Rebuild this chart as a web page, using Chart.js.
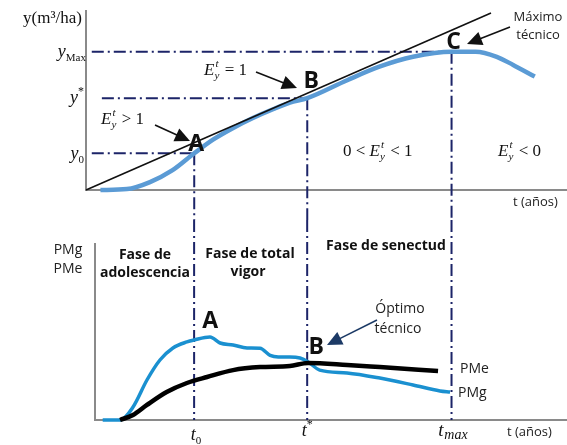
<!DOCTYPE html>
<html>
<head>
<meta charset="utf-8">
<script src="https://cdn.jsdelivr.net/npm/chart.js@4"></script>
<style>
  html, body { margin: 0; padding: 0; background: #fff; }
  #wrap { position: relative; width: 567px; height: 445px; overflow: hidden; }
  canvas { position: absolute; left: 0; }
</style>
</head>
<body>
<div id="wrap">
  <canvas id="growthChart" width="567" height="220" style="top:0"></canvas>
  <canvas id="prodChart" width="567" height="225" style="top:220px"></canvas>
</div>
<script>
// growth curve (t in arbitrary years, volume in m3/ha, both)
const growthT = [3, 8.5, 13.3, 18, 22.5, 26.4, 30.6, 34.7, 39, 42.4, 46, 54.3, 61, 68, 76, 81, 85.4, 88.8, 93.3];
const growthY = [0, 0.5, 4.4, 11, 20.4, 28, 34.5, 40, 45, 48.5, 51, 61, 68.5, 74, 76.8, 76.8, 74, 69.5, 63];

// straight line from origin, tangent at B
const tangentT = [0, 84.2];
const tangentY = [0, 98.3];

// marginal and mean product
const pmgT = [3.5, 7.1, 9.8, 12.7, 15.4, 18.1, 21, 22.5, 25.8, 27.9, 30.6, 33.5, 36.2, 38.3, 40, 42.4, 44.5, 46.2, 48.6, 54.3, 61.1, 68, 73.6, 75.7];
const pmgV = [0, 0, 7.3, 22.6, 33.9, 40.7, 44.1, 45.2, 46.9, 43.5, 42.4, 40.7, 40.5, 36.5, 35.6, 35.6, 35, 32.8, 28.2, 26.6, 23.7, 19.8, 16.4, 15.8];
const pmeT = [7.1, 9.8, 12.7, 16.8, 21, 25.2, 30.6, 36.2, 42.4, 46.2, 54.3, 61.1, 73.2];
const pmeV = [0, 2.8, 8.5, 15.8, 20.9, 24.3, 28.2, 29.9, 30.5, 32.2, 31.1, 29.9, 27.7];

// key points A, B, C
const keyT = [22.5, 46, 76];
const keyY = [20.4, 51, 76.8];
const keyNames = ['A', 'B', 'C'];

const toXY = (xs, ys) => xs.map((x, i) => ({ x, y: ys[i] }));

const NAVY = '#1c2468';
const AXIS = '#8a8a8a';
const SANS = "'Open Sans', 'Noto Sans', sans-serif";
const SERIF = "'Liberation Serif', 'DejaVu Serif', serif";

function dashDot(ctx, x1, y1, x2, y2) {
    ctx.save();
    ctx.strokeStyle = NAVY;
    ctx.lineWidth = 2;
    ctx.setLineDash([12, 4, 2, 4]);
    ctx.beginPath();
    ctx.moveTo(x1, y1);
    ctx.lineTo(x2, y2);
    ctx.stroke();
    ctx.restore();
}

function arrow(ctx, x1, y1, x2, y2, color) {
    const a = Math.atan2(y2 - y1, x2 - x1);
    const len = 15, w = 7;
    ctx.save();
    ctx.strokeStyle = color;
    ctx.fillStyle = color;
    ctx.lineWidth = 1.6;
    ctx.beginPath();
    ctx.moveTo(x1, y1);
    ctx.lineTo(x2 - Math.cos(a) * len * 0.8, y2 - Math.sin(a) * len * 0.8);
    ctx.stroke();
    ctx.beginPath();
    ctx.moveTo(x2, y2);
    ctx.lineTo(x2 - Math.cos(a) * len - Math.sin(a) * w, y2 - Math.sin(a) * len + Math.cos(a) * w);
    ctx.lineTo(x2 - Math.cos(a) * len + Math.sin(a) * w, y2 - Math.sin(a) * len - Math.cos(a) * w);
    ctx.closePath();
    ctx.fill();
    ctx.restore();
}

function text(ctx, str, x, y, font, align, color) {
    ctx.save();
    ctx.font = font;
    ctx.fillStyle = color || '#111';
    ctx.textAlign = align || 'left';
    ctx.textBaseline = 'alphabetic';
    ctx.fillText(str, x, y);
    ctx.restore();
}

// E_y^t with text before / after, drawn left to right from x
function elast(ctx, x, y, before, after) {
    ctx.save();
    ctx.fillStyle = '#111';
    ctx.textBaseline = 'alphabetic';
    ctx.font = '17px ' + SERIF;
    ctx.fillText(before, x, y);
    x += ctx.measureText(before).width;
    ctx.font = 'italic 17px ' + SERIF;
    ctx.fillText('E', x, y);
    x += ctx.measureText('E').width;
    ctx.font = 'italic 11px ' + SERIF;
    ctx.fillText('t', x + 1, y - 8);
    ctx.fillText('y', x, y + 4);
    x += 6;
    ctx.font = '17px ' + SERIF;
    ctx.fillText(after, x, y);
    ctx.restore();
}

function italicSym(ctx, base, small, x, y, up, align) {
    ctx.save();
    ctx.fillStyle = '#111';
    ctx.font = 'italic 18px ' + SERIF;
    const w1 = ctx.measureText(base).width;
    ctx.font = (up ? '12px ' : '11px ') + SERIF;
    const w2 = ctx.measureText(small).width;
    let sx = align === 'right' ? x - w1 - w2 : align === 'center' ? x - (w1 + w2) / 2 : x;
    ctx.font = 'italic 18px ' + SERIF;
    ctx.fillText(base, sx, y);
    ctx.font = (up ? '12px ' : '11px ') + SERIF;
    ctx.fillText(small, sx + w1, up ? y - 8 : y + 4);
    ctx.restore();
}

const growthDecor = {
    id: 'growthDecor',
    beforeDatasetsDraw(chart) {
        const { ctx, chartArea: ca, scales: { x, y } } = chart;
        // axes
        ctx.save();
        ctx.strokeStyle = AXIS;
        ctx.lineWidth = 2;
        ctx.beginPath();
        ctx.moveTo(ca.left, ca.top);
        ctx.lineTo(ca.left, ca.bottom);
        ctx.lineTo(chart.width, ca.bottom);
        ctx.stroke();
        ctx.restore();
        // reference lines
        const starts = [1.2, 3.3, 1.2];
        keyT.forEach((t, i) => {
            dashDot(ctx, x.getPixelForValue(starts[i]), y.getPixelForValue(keyY[i]), x.getPixelForValue(t), y.getPixelForValue(keyY[i]));
            dashDot(ctx, x.getPixelForValue(t), y.getPixelForValue(keyY[i]), x.getPixelForValue(t), chart.height);
        });
    },
    afterDatasetsDraw(chart) {
        const { ctx, scales: { x, y } } = chart;
        // point labels
        const off = [[2, -2], [4, -10], [2, -3]];
        keyT.forEach((t, i) => {
            text(ctx, keyNames[i], x.getPixelForValue(t) + off[i][0], y.getPixelForValue(keyY[i]) + off[i][1], 'bold 23px ' + SANS, 'center', '#111');
        });
        // axis labels
        text(ctx, 'y(m³/ha)', 82, 23, '17px ' + SERIF, 'right');
        italicSym(ctx, 'y', 'Max', 86, 57, false, 'right');
        italicSym(ctx, 'y', '*', 84, 103, true, 'right');
        italicSym(ctx, 'y', '0', 84, 159, false, 'right');
        text(ctx, 't (años)', 513, 206, '13px ' + SANS, 'left', '#222');
        // annotations
        elast(ctx, 101, 124, '', ' > 1');
        arrow(ctx, 155, 125, 190, 141, '#111');
        elast(ctx, 204, 75, '', ' = 1');
        arrow(ctx, 256, 72, 297, 88, '#111');
        elast(ctx, 343, 156, '0 < ', ' < 1');
        elast(ctx, 498, 156, '', ' < 0');
        text(ctx, 'Máximo', 538, 21, '13px ' + SANS, 'center', '#222');
        text(ctx, 'técnico', 538, 39, '13px ' + SANS, 'center', '#222');
        arrow(ctx, 510, 27, 467, 44, '#111');
    }
};

const prodDecor = {
    id: 'prodDecor',
    beforeDatasetsDraw(chart) {
        const { ctx, chartArea: ca, scales: { x } } = chart;
        ctx.save();
        ctx.strokeStyle = AXIS;
        ctx.lineWidth = 2;
        ctx.beginPath();
        ctx.moveTo(ca.left, ca.top);
        ctx.lineTo(ca.left, ca.bottom);
        ctx.lineTo(chart.width, ca.bottom);
        ctx.stroke();
        ctx.restore();
        keyT.forEach(t => {
            dashDot(ctx, x.getPixelForValue(t), 0, x.getPixelForValue(t), ca.bottom);
        });
    },
    afterDatasetsDraw(chart) {
        const { ctx, scales: { x, y } } = chart;
        text(ctx, 'PMg', 68, 34, '14px ' + SANS, 'center', '#222');
        text(ctx, 'PMe', 68, 53, '14px ' + SANS, 'center', '#222');
        text(ctx, 'Fase de', 145, 39, 'bold 14px ' + SANS, 'center');
        text(ctx, 'adolescencia', 145, 57, 'bold 14px ' + SANS, 'center');
        text(ctx, 'Fase de total', 250, 38, 'bold 14px ' + SANS, 'center');
        text(ctx, 'vigor', 248, 56, 'bold 14px ' + SANS, 'center');
        text(ctx, 'Fase de senectud', 386, 30, 'bold 14px ' + SANS, 'center');
        text(ctx, 'Óptimo', 400, 93, '14px ' + SANS, 'center', '#222');
        text(ctx, 'técnico', 398, 113, '14px ' + SANS, 'center', '#222');
        arrow(ctx, 377, 100, 327, 125, '#1c3a66');
        text(ctx, 'A', x.getPixelForValue(keyT[0]) + 16, y.getPixelForValue(pmgV[7]) - 12, 'bold 23px ' + SANS, 'center');
        text(ctx, 'B', x.getPixelForValue(keyT[1]) + 9, y.getPixelForValue(pmeV[9]) - 9, 'bold 23px ' + SANS, 'center');
        text(ctx, 'PMe', 460, 153, '14px ' + SANS, 'left', '#222');
        text(ctx, 'PMg', 458, 177, '14px ' + SANS, 'left', '#222');
        italicSym(ctx, 't', '0', x.getPixelForValue(keyT[0]) + 2, 220, false, 'center');
        italicSym(ctx, 't', '*', x.getPixelForValue(keyT[1]), 216, true, 'center');
        ctx.save();
        ctx.fillStyle = '#111';
        ctx.font = 'italic 19px ' + SERIF;
        ctx.textAlign = 'center';
        ctx.fillText('t', 441, 216);
        ctx.font = 'italic 14px ' + SERIF;
        ctx.fillText('max', 456, 219);
        ctx.restore();
        text(ctx, 't (años)', 507, 216, '13px ' + SANS, 'left', '#222');
    }
};

const baseOpts = (pad, xmin) => ({
    responsive: false,
    animation: false,
    layout: { padding: pad },
    plugins: { legend: { display: false }, tooltip: { enabled: false } },
    scales: {
        x: { type: 'linear', display: false, min: xmin, max: 100 },
        y: { type: 'linear', display: false, min: 0, max: 100 }
    },
    elements: { point: { radius: 0 } }
});

new Chart(document.getElementById('growthChart'), {
    type: 'line',
    data: {
        datasets: [
            { data: toXY(tangentT, tangentY), borderColor: '#111', borderWidth: 1.6, tension: 0, clip: false },
            { data: toXY(growthT, growthY), borderColor: '#5b9bd5', borderWidth: 4.5, cubicInterpolationMode: 'monotone', clip: false }
        ]
    },
    options: baseOpts({ left: 86, right: 0, top: 10, bottom: 30 }, 0),
    plugins: [growthDecor]
});

new Chart(document.getElementById('prodChart'), {
    type: 'line',
    data: {
        datasets: [
            { data: toXY(pmeT, pmeV), borderColor: '#000', borderWidth: 4.5, cubicInterpolationMode: 'monotone', clip: false },
            { data: toXY(pmgT, pmgV), borderColor: '#1a90d0', borderWidth: 3.5, cubicInterpolationMode: 'monotone', clip: false }
        ]
    },
    options: baseOpts({ left: 95, right: 0, top: 23, bottom: 25 }, 1.9),
    plugins: [prodDecor]
});
</script>
</body>
</html>
